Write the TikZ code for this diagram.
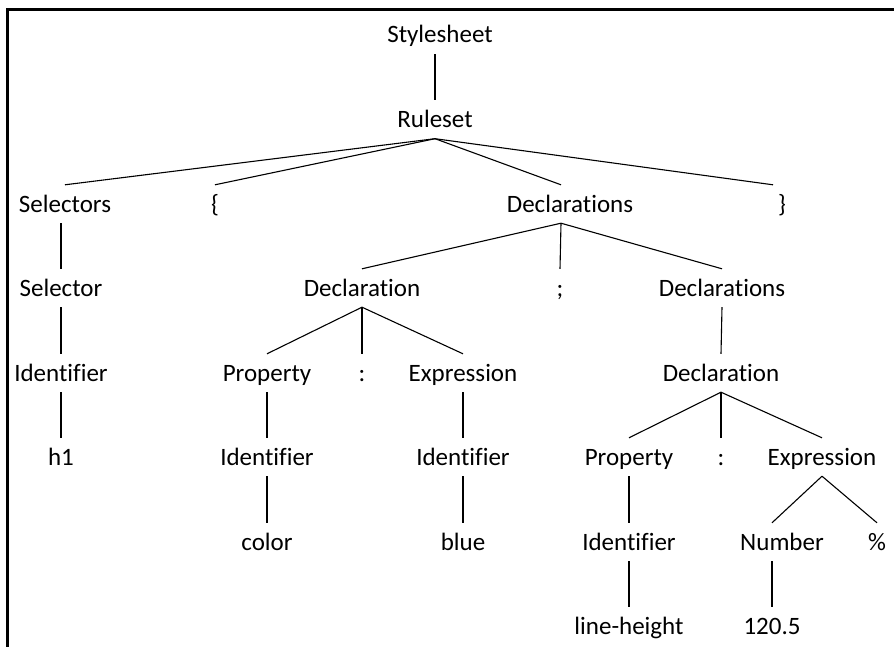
\documentclass[tikz,border=0pt]{standalone}
\usepackage{fontspec}
\setmainfont{Carlito}[Ligatures={NoCommon}]
\usetikzlibrary{positioning}
\tikzset{
    every node/.style={font=\fontsize{25}{30}\selectfont},
    treenode/.style={inner sep=0pt, minimum height=38pt, text height=17pt, text depth=1pt},
    edge/.style={line width=1.1pt},
    frame/.style={line width=2.6pt},
}

\begin{document}
\begin{tikzpicture}[x=1pt, y=-1pt]
\useasboundingbox (0,0) rectangle (894,647);
% frame along the left and top edges
\draw[frame] (7.5,647) -- (7.5,9.5) -- (894,9.5);
% level 0 and 1
   \node[treenode] (ss) at (440,35) {Stylesheet};
   \node[treenode] (rs) at (435,119.5) {Ruleset};
% level 2
   \node[treenode] (sels) at (65,204) {Selectors};
   \node[treenode] (lbr) at (215,204) {\{};
   \node[treenode] (decls) at (570,204) {Declarations};
   \node[treenode] (rbr) at (782,204) {\}};
% level 3
   \node[treenode] (sel) at (61,288) {Selector};
   \node[treenode] (declA) at (362,288) {Declaration};
   \node[treenode] (semi) at (560,288) {;};
   \node[treenode] (declsB) at (722,288) {Declarations};
% level 4
   \node[treenode] (idA) at (61,373) {Identifier};
   \node[treenode] (propA) at (267,373) {Property};
   \node[treenode] (colA) at (362,373) {:};
   \node[treenode] (exprA) at (463,373) {Expression};
   \node[treenode] (declB) at (721,373) {Declaration};
% level 5
   \node[treenode] (hone) at (61,457) {h1};
   \node[treenode] (idB) at (267,457) {Identifier};
   \node[treenode] (idC) at (463,457) {Identifier};
   \node[treenode] (propB) at (629,457) {Property};
   \node[treenode] (colB) at (721,457) {:};
   \node[treenode] (exprB) at (822,457) {Expression};
% level 6 and 7
   \node[treenode] (color) at (267,542) {color};
   \node[treenode] (blue) at (463,542) {blue};
   \node[treenode] (idD) at (629,542) {Identifier};
   \node[treenode] (num) at (782,542) {Number};
   \node[treenode] (pct) at (877,542) {\%};
   \node[treenode] (lh) at (629,626) {line-height};
   \node[treenode] (val) at (772,626) {120.5};
% connectors
   \draw[edge] ([xshift=-5pt]ss.south) -- (rs.north);
   \draw[edge] (rs.south) -- (sels.north);
   \draw[edge] (rs.south) -- (lbr.north);
   \draw[edge] (rs.south) -- ([xshift=-9pt]decls.north);
   \draw[edge] (rs.south) -- ([xshift=-9pt]rbr.north);
   \draw[edge] ([xshift=-4pt]sels.south) -- (sel.north);
   \draw[edge] (sel.south) -- (idA.north);
   \draw[edge] (idA.south) -- (hone.north);
   \draw[edge] ([xshift=-9pt]decls.south) -- (declA.north);
   \draw[edge] ([xshift=-9pt]decls.south) -- (semi.north);
   \draw[edge] ([xshift=-9pt]decls.south) -- (declsB.north);
   \draw[edge] (declA.south) -- (propA.north);
   \draw[edge] (declA.south) -- (colA.north);
   \draw[edge] (declA.south) -- (exprA.north);
   \draw[edge] (propA.south) -- (idB.north);
   \draw[edge] (idB.south) -- (color.north);
   \draw[edge] (exprA.south) -- (idC.north);
   \draw[edge] (idC.south) -- (blue.north);
   \draw[edge] (declsB.south) -- (declB.north);
   \draw[edge] (declB.south) -- (propB.north);
   \draw[edge] (declB.south) -- (colB.north);
   \draw[edge] (declB.south) -- (exprB.north);
   \draw[edge] (propB.south) -- (idD.north);
   \draw[edge] (idD.south) -- (lh.north);
   \draw[edge] (exprB.south) -- ([xshift=-10pt]num.north);
   \draw[edge] (exprB.south) -- (pct.north);
   \draw[edge] ([xshift=-10pt]num.south) -- (val.north);
\end{tikzpicture}
\end{document}
